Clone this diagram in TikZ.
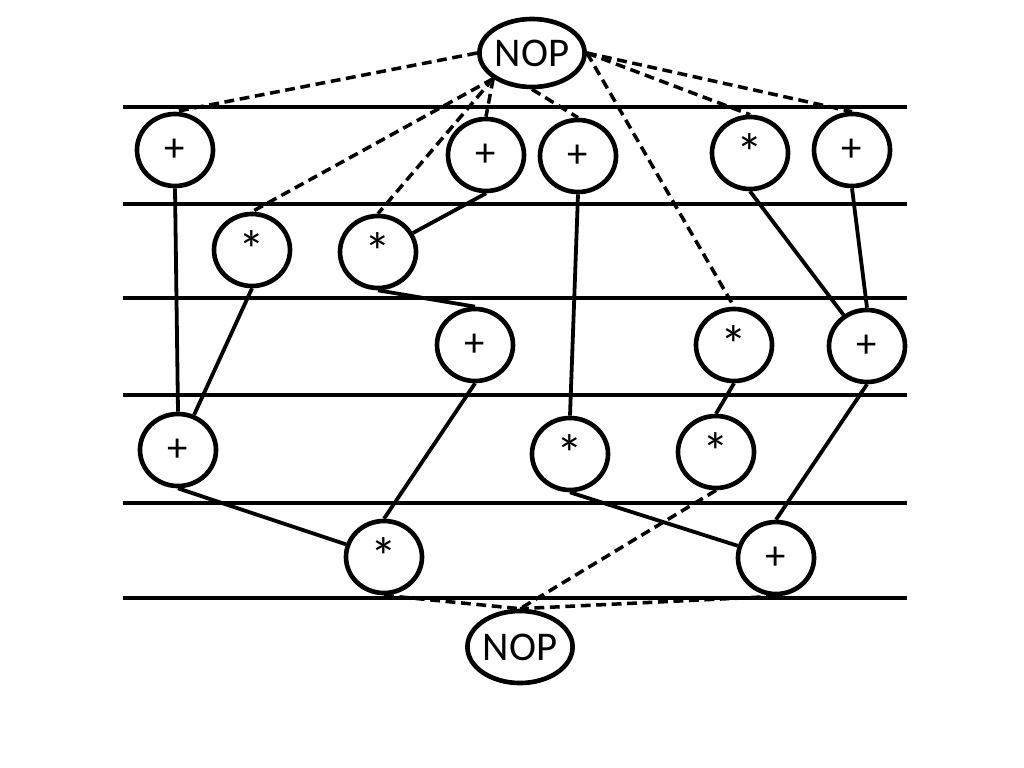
\documentclass[tikz,border=0pt]{standalone}
\usepackage{fontspec}
\setmainfont{Carlito}
\usetikzlibrary{shapes.geometric}

\newcommand{\opmul}{\raisebox{-0.42em}{\fontsize{38}{38}\selectfont *}}

\begin{document}
\begin{tikzpicture}[
    x=0.025cm, y=-0.025cm,
    op/.style={draw, ellipse, line width=3.3pt, inner sep=0pt, minimum width=1.9cm, minimum height=1.8cm, font=\fontsize{29}{30}\selectfont},
    nop/.style={op, minimum width=2.3cm, minimum height=1.7cm},
    dep/.style={line width=2.7pt},
    ctl/.style={line width=2.5pt, dash pattern=on 7pt off 4pt},
    level/.style={line width=3.5pt}
]
\useasboundingbox (0,0) rectangle (1024,768);
% time steps
\foreach \y in {107,204,298,395,503,598}
  \draw[level] (123,\y) -- (907,\y);
% operations
\node[nop] (nopT) at (532,53) {NOP};
\node[op] (add11) at (175,150) {+};
\node[op] (add12) at (486,155) {+};
\node[op] (add13) at (578,156) {+};
\node[op] (mul11) at (750,153) {\opmul};
\node[op] (add14) at (852,150) {+};
\node[op] (mul21) at (252,250) {\opmul};
\node[op] (mul22) at (378,252) {\opmul};
\node[op] (add31) at (475,345) {+};
\node[op] (mul31) at (734,345) {\opmul};
\node[op] (add32) at (867,346) {+};
\node[op] (add41) at (178,450) {+};
\node[op] (mul41) at (570,454) {\opmul};
\node[op] (mul42) at (716,452) {\opmul};
\node[op] (mul51) at (384,557) {\opmul};
\node[op] (add51) at (776,558) {+};
\node[nop, minimum height=1.8cm] (nopB) at (520,647) {NOP};
% data dependences
\draw[dep] (add11.south) -- (add41.north);
\draw[dep] (mul21.south) -- (add41);
\draw[dep] (add12.south) -- (mul22);
\draw[dep] (mul22.south) -- (add31.north);
\draw[dep] (add31.south) -- (mul51.north);
\draw[dep] (add13.south) -- (mul41.north);
\draw[dep] (mul11.south) -- (add32);
\draw[dep] (add14.south) -- (add32.north);
\draw[dep] (mul31.south) -- (mul42.north);
\draw[dep] (add32.south) -- (add51.north);
\draw[dep] (add41.south) -- (mul51);
\draw[dep] (mul41.south) -- (add51);
% source and sink
\draw[ctl] (nopT.west) -- (add11.north);
\draw[ctl] (nopT.south west) -- (mul21.north);
\draw[ctl] (nopT.south west) -- (mul22.north);
\draw[ctl] (nopT.south west) -- (add12.north);
\draw[ctl] (nopT.south) -- (add13.north);
\draw[ctl] (nopT.east) -- (mul31.north);
\draw[ctl] (nopT.east) -- (mul11.north);
\draw[ctl] (nopT.east) -- (add14.north);
\draw[ctl] (mul42.south) -- (nopB.north);
\draw[ctl] (mul51.south) -- (nopB.north);
\draw[ctl] (add51.south) -- (nopB.north);
\end{tikzpicture}
\end{document}
